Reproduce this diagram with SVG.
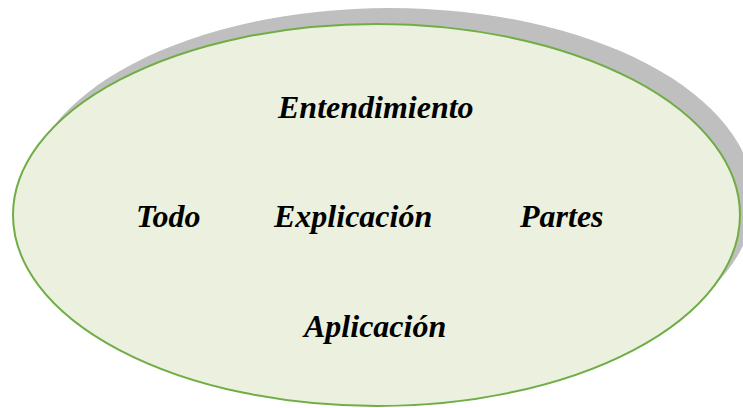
<svg xmlns="http://www.w3.org/2000/svg" width="743" height="408" viewBox="0 0 743 408">
<style>
.lbl{font-family:"Liberation Serif","Times New Roman",serif;font-weight:bold;font-style:italic;font-size:32px;fill:#000}
</style>
<rect width="743" height="408" fill="#fff"/>
<ellipse id="shadow" cx="390" cy="199" rx="364" ry="191" fill="#bfbfbf"/>
<g id="ellipse">
<ellipse cx="376.5" cy="215" rx="363.5" ry="191" fill="#ebf1de" stroke="#70ad47" stroke-width="2"/>
</g>
<g id="n-entendimiento"><text class="lbl" x="278" y="118">Entendimiento</text></g>
<g id="n-todo"><text class="lbl" x="136" y="227">Todo</text></g>
<g id="n-explicacion"><text class="lbl" x="274" y="227">Explicación</text></g>
<g id="n-partes"><text class="lbl" x="520" y="227">Partes</text></g>
<g id="n-aplicacion"><text class="lbl" x="304" y="337">Aplicación</text></g>
<g id="connectors"></g>
</svg>
